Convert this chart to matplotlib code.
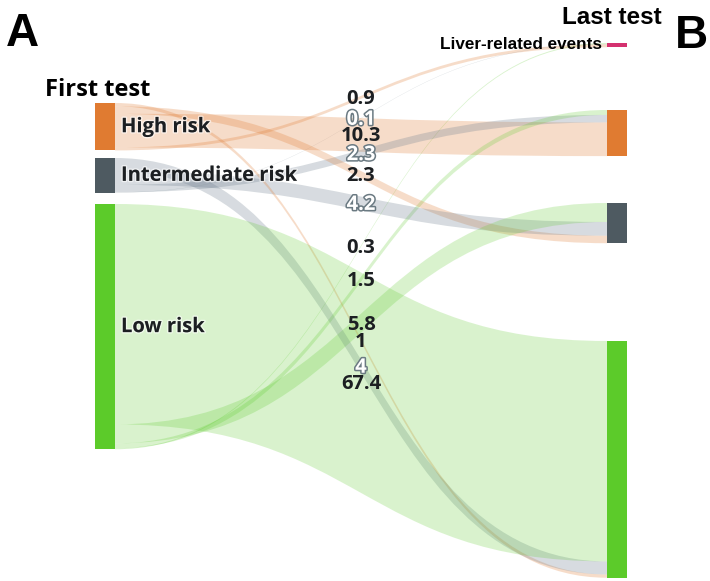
import matplotlib.pyplot as plt
from matplotlib.path import Path
from matplotlib.patches import PathPatch, Rectangle
import matplotlib.patheffects as pe

# percentages of patients moving from first test category to last test category
first_nodes = ["High risk", "Intermediate risk", "Low risk"]
last_nodes = ["Liver-related events", "High risk", "Intermediate risk", "Low risk"]
# columns: Liver-related events, High risk, Intermediate risk, Low risk
high_to = [0.9, 10.3, 2.3, 1]
inter_to = [0.1, 2.3, 4.2, 4]
low_to = [0.3, 1.5, 5.8, 67.4]
flows = [high_to, inter_to, low_to]

first_colors = ["#E07B31", "#4E5A61", "#5CCB2A"]
last_colors = ["#D4316F", "#E07B31", "#4E5A61", "#5CCB2A"]
link_rgb = [(224, 123, 49), (112, 128, 144), (92, 203, 42)]
link_alpha = [0.26, 0.28, 0.23]

# layout (pixel space)
W, H = 710, 581
scale = 3.27
left_x0, left_x1 = 95, 115
right_x0, right_x1 = 607, 627
left_tops = [103, 158, 204]
right_tops = [43, 110, 203, 341]

fig = plt.figure(figsize=(W / 100, H / 100), dpi=100)
ax = fig.add_axes([0, 0, 1, 1])
ax.set_xlim(0, W)
ax.set_ylim(H, 0)
ax.axis("off")

# stack links on each node: bottom-most category first
src_pos = {}
for s in range(3):
    y = left_tops[s]
    for t in [3, 2, 1, 0]:
        h = flows[s][t] * scale
        src_pos[(s, t)] = (y, y + h)
        y += h
tgt_pos = {}
for t in range(4):
    y = right_tops[t]
    for s in [2, 1, 0]:
        h = flows[s][t] * scale
        tgt_pos[(s, t)] = (y, y + h)
        y += h


def band(x0, y0a, y0b, x1, y1a, y1b):
    xm = (x0 + x1) / 2
    verts = [(x0, y0a), (xm, y0a), (xm, y1a), (x1, y1a),
             (x1, y1b), (xm, y1b), (xm, y0b), (x0, y0b), (x0, y0a)]
    codes = [Path.MOVETO, Path.CURVE4, Path.CURVE4, Path.CURVE4,
             Path.LINETO, Path.CURVE4, Path.CURVE4, Path.CURVE4, Path.CLOSEPOLY]
    return Path(verts, codes)


label_font = ["Open Sans", "DejaVu Sans"]
for t in range(4):
    for s in range(3):
        y0a, y0b = src_pos[(s, t)]
        y1a, y1b = tgt_pos[(s, t)]
        r, g, b = link_rgb[s]
        ax.add_patch(PathPatch(band(left_x1, y0a, y0b, right_x0, y1a, y1b),
                               facecolor=(r / 255, g / 255, b / 255, link_alpha[s]),
                               edgecolor="none", zorder=1))

# value labels at the middle of each link
for t in range(4):
    for s in range(3):
        y0a, y0b = src_pos[(s, t)]
        y1a, y1b = tgt_pos[(s, t)]
        ym = ((y0a + y0b) / 2 + (y1a + y1b) / 2) / 2 + 1.5
        xm = (left_x1 + right_x0) / 2
        v = flows[s][t]
        txt = f"{v:g}"
        if s == 1:
            ax.text(xm, ym, txt, ha="center", va="center", fontsize=14.5,
                    fontweight="bold", family=label_font, color="white", zorder=5,
                    path_effects=[pe.withStroke(linewidth=2.2, foreground="#6B7A82")])
        else:
            ax.text(xm, ym, txt, ha="center", va="center", fontsize=14.5,
                    fontweight="bold", family=label_font, color="#1C1F22", zorder=5)

# nodes
for s in range(3):
    h = sum(flows[s]) * scale
    ax.add_patch(Rectangle((left_x0, left_tops[s]), left_x1 - left_x0, h,
                           facecolor=first_colors[s], edgecolor="none", zorder=3))
    ax.text(left_x1 + 6, left_tops[s] + h / 2 + 0.5, first_nodes[s], ha="left", va="center",
            fontsize=14.5, fontweight="bold", family=label_font, color="#1C1F22", zorder=6,
            path_effects=[pe.withStroke(linewidth=2, foreground=(1, 1, 1, 0.6))])
for t in range(4):
    h = sum(flows[s][t] for s in range(3)) * scale
    ax.add_patch(Rectangle((right_x0, right_tops[t]), right_x1 - right_x0, h,
                           facecolor=last_colors[t], edgecolor="none", zorder=3))

ax.text(right_x0 - 5, right_tops[0] + 1.5, last_nodes[0], ha="right", va="center",
        fontsize=12.3, fontweight="bold", family=["Liberation Sans", "DejaVu Sans"],
        color="black", zorder=6)

# column titles and panel letters
ax.text(45, 90, "First test", ha="left", va="center", fontsize=17,
        fontweight="bold", family=label_font, color="black")
ax.text(662, 18, "Last test", ha="right", va="center", fontsize=17.5,
        fontweight="bold", family=["Liberation Sans", "DejaVu Sans"], color="black")
ax.text(6, 34, "A", ha="left", va="center", fontsize=33,
        fontweight="bold", family=["Liberation Sans", "DejaVu Sans"], color="black")
ax.text(708, 36, "B", ha="right", va="center", fontsize=33,
        fontweight="bold", family=["Liberation Sans", "DejaVu Sans"], color="black")

fig.savefig("out.png", dpi=100)
